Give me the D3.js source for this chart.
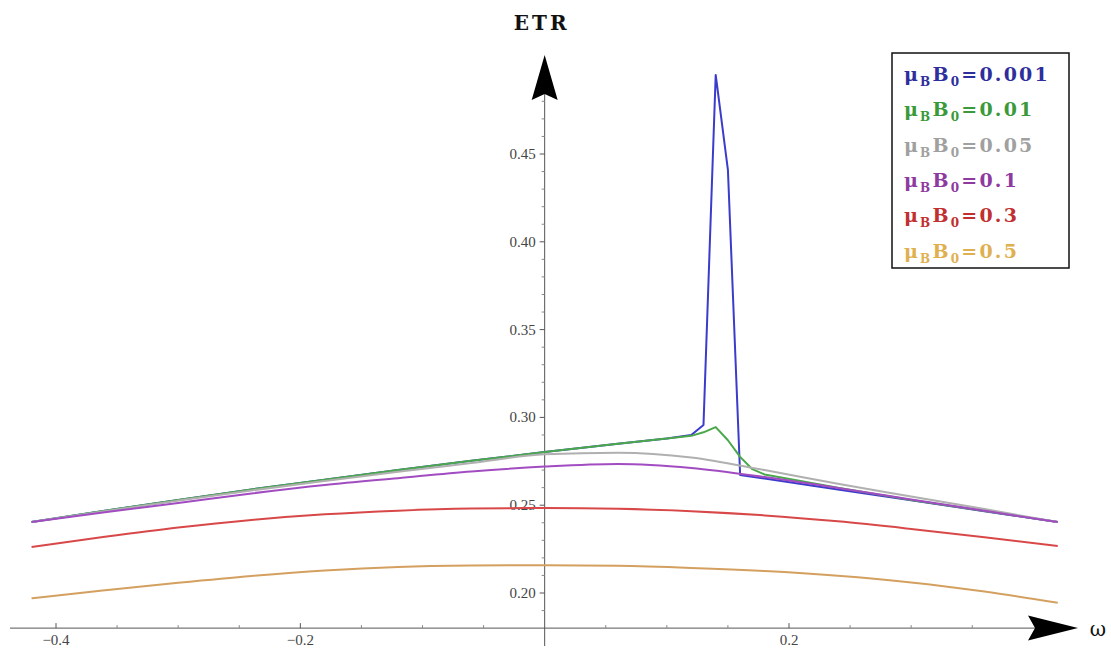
<!DOCTYPE html>
<html><head><meta charset="utf-8">
<script src="https://cdn.jsdelivr.net/npm/d3@7"></script>
<style>body{margin:0;background:#fff}</style>
</head><body>
<svg id="c" width="1111" height="649"></svg>
<script>
// ---- data ----
const omegaSpike = [-0.42,-0.36,-0.30,-0.24,-0.18,-0.12,-0.06,0,0.06,0.10,0.12,0.13,0.14,0.15,0.16,0.18,0.24,0.30,0.36,0.42];
const etrB0001   = [0.2404,0.2468,0.2530,0.2590,0.2645,0.2700,0.2753,0.2803,0.2850,0.2880,0.2900,0.2957,0.4950,0.4410,0.2672,0.2652,0.2590,0.2528,0.2466,0.2404];
const omegaKink  = [-0.42,-0.36,-0.30,-0.24,-0.18,-0.12,-0.06,0,0.06,0.10,0.12,0.13,0.14,0.15,0.16,0.17,0.18,0.24,0.30,0.36,0.42];
const etrB001    = [0.2404,0.2468,0.2530,0.2590,0.2645,0.2700,0.2753,0.2803,0.2850,0.2880,0.2895,0.2915,0.2945,0.2870,0.2775,0.2705,0.2675,0.2600,0.2530,0.2467,0.2404];
const omegaSmooth = [-0.42,-0.36,-0.30,-0.24,-0.18,-0.12,-0.06,0,0.06,0.12,0.18,0.24,0.30,0.36,0.42];
const etrB005    = [0.2404,0.2466,0.2526,0.2584,0.2638,0.2690,0.2740,0.2790,0.2799,0.2772,0.2700,0.2622,0.2550,0.2478,0.2404];
const etrB01     = [0.2404,0.2460,0.2513,0.2567,0.2615,0.2654,0.2692,0.2720,0.2735,0.2712,0.2660,0.2598,0.2533,0.2468,0.2404];
const etrB03     = [0.2262,0.2320,0.2373,0.2416,0.2448,0.2469,0.2481,0.2484,0.2480,0.2466,0.2442,0.2408,0.2365,0.2318,0.2268];
const etrB05     = [0.1970,0.2015,0.2058,0.2097,0.2128,0.2148,0.2156,0.2158,0.2155,0.2143,0.2125,0.2098,0.2060,0.2008,0.1945];

const legendValues = ["0.001","0.01","0.05","0.1","0.3","0.5"];
const lineColors   = ["#3b3bcc","#4aa84a","#b0b0b0","#a24cc2","#d84848","#d4a060"];
const textColors   = ["#2e2e9c","#3a9a3a","#a0a0a0","#8e3a9e","#c03030","#e0b050"];

const xMajor = [-0.4,-0.2,0.2];
const xMinor = [-0.35,-0.3,-0.25,-0.15,-0.1,-0.05,0.05,0.1,0.15,0.25,0.3,0.35];
const yMajor = [0.20,0.25,0.30,0.35,0.40,0.45];
const yMinor = [0.19,0.21,0.22,0.23,0.24,0.26,0.27,0.28,0.29,0.31,0.32,0.33,0.34,0.36,0.37,0.38,0.39,0.41,0.42,0.43,0.44,0.46,0.47,0.48];

// ---- drawing ----
const svg = d3.select("#c");
const x = d3.scaleLinear().domain([-0.4, 0.2]).range([56, 789]);
const y = d3.scaleLinear().domain([0.20, 0.45]).range([593, 154]);
const x0 = x(0), yAxisPos = y(0.18);

const series = [
  {om: omegaSpike, v: etrB0001, curve: d3.curveLinear},
  {om: omegaKink,  v: etrB001,  curve: d3.curveLinear},
  {om: omegaSmooth, v: etrB005, curve: d3.curveMonotoneX},
  {om: omegaSmooth, v: etrB01,  curve: d3.curveMonotoneX},
  {om: omegaSmooth, v: etrB03,  curve: d3.curveMonotoneX},
  {om: omegaSmooth, v: etrB05,  curve: d3.curveMonotoneX}
];

// axes lines
const ax = svg.append("g").attr("stroke","#555").attr("stroke-width",1);
ax.append("line").attr("x1",10).attr("x2",1040).attr("y1",yAxisPos).attr("y2",yAxisPos);
ax.append("line").attr("x1",x0).attr("x2",x0).attr("y1",646).attr("y2",90);

// x ticks
xMajor.forEach(t=>{
  ax.append("line").attr("x1",x(t)).attr("x2",x(t)).attr("y1",yAxisPos).attr("y2",yAxisPos-5);
  svg.append("text").attr("x",x(t)).attr("y",yAxisPos+17).attr("text-anchor","middle")
    .attr("font-family","Liberation Serif").attr("font-size",15).attr("fill","#444")
    .text(d3.format(".1f")(t).replace("-","\u2212"));
});
xMinor.forEach(t=>{
  ax.append("line").attr("x1",x(t)).attr("x2",x(t)).attr("y1",yAxisPos).attr("y2",yAxisPos-3).attr("stroke","#888");
});
// y ticks
yMajor.forEach(t=>{
  ax.append("line").attr("x1",x0).attr("x2",x0-5).attr("y1",y(t)).attr("y2",y(t));
  svg.append("text").attr("x",x0-9).attr("y",y(t)+5).attr("text-anchor","end")
    .attr("font-family","Liberation Serif").attr("font-size",15).attr("fill","#444")
    .text(d3.format(".2f")(t));
});
yMinor.forEach(t=>{
  ax.append("line").attr("x1",x0).attr("x2",x0-3).attr("y1",y(t)).attr("y2",y(t)).attr("stroke","#888");
});

// arrowheads
svg.append("path").attr("fill","#000")
  .attr("d",`M${x0},55 L${x0+13},100 L${x0},94 L${x0-13},100 Z`);
svg.append("path").attr("fill","#000")
  .attr("d",`M1078,${yAxisPos} L1028,${yAxisPos-12.5} L1035,${yAxisPos} L1028,${yAxisPos+12.5} Z`);

// axis labels
svg.append("text").attr("x",x0-3).attr("y",30).attr("text-anchor","middle")
  .attr("font-family","DejaVu Serif").attr("font-weight","bold").attr("font-size",20)
  .attr("letter-spacing",3).attr("fill","#111").text("ETR");
svg.append("text").attr("x",1098).attr("y",636).attr("text-anchor","middle")
  .attr("font-family","DejaVu Serif").attr("font-size",20).attr("fill","#111").text("\u03c9");

// curves
series.forEach((s,i)=>{
  const pts = s.om.map((o,j)=>[o,s.v[j]]);
  svg.append("path").datum(pts)
    .attr("fill","none").attr("stroke",lineColors[i]).attr("stroke-width",2)
    .attr("stroke-linejoin","round")
    .attr("d", d3.line().x(d=>x(d[0])).y(d=>y(d[1])).curve(s.curve));
});

// legend
const lg = svg.append("g");
lg.append("rect").attr("x",892).attr("y",53).attr("width",177).attr("height",215)
  .attr("fill","#fff").attr("stroke","#111").attr("stroke-width",1.5);
legendValues.forEach((v,i)=>{
  const t = lg.append("text").attr("x",904).attr("y",81+i*35.3)
    .attr("font-family","DejaVu Serif").attr("font-weight","bold").attr("font-size",19)
    .attr("letter-spacing",2.2).attr("fill",textColors[i]);
  t.append("tspan").text("\u03bc");
  t.append("tspan").attr("dy",5).attr("font-size",12).text("B");
  t.append("tspan").attr("dy",-5).text("B");
  t.append("tspan").attr("dy",5).attr("font-size",12).text("0");
  t.append("tspan").attr("dy",-5).text("=" + v);
});
</script>
</body></html>
